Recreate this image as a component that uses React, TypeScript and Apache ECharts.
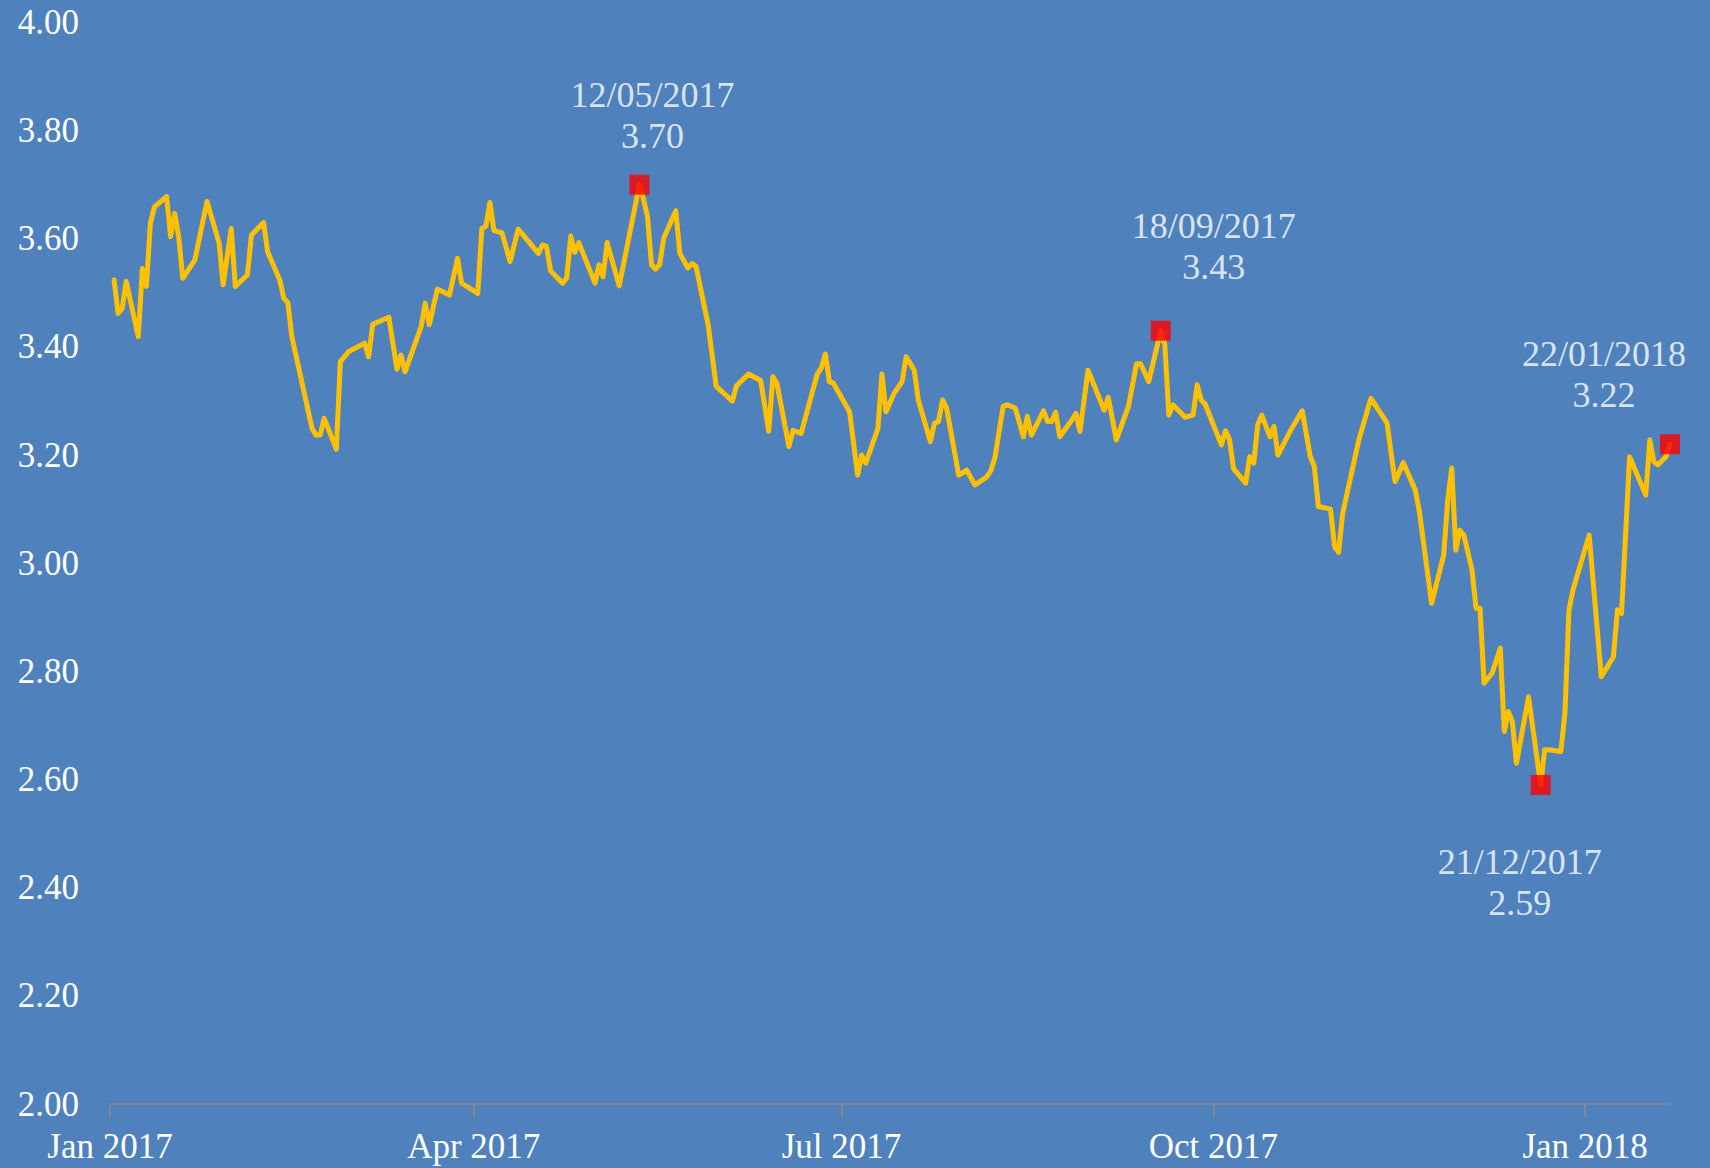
import React, { useEffect, useRef } from "react";
import * as echarts from "echarts";

// ---- Data ----
const dates = [
  "2017-01-02", "2017-01-03", "2017-01-04", "2017-01-05", "2017-01-08", "2017-01-09", "2017-01-10", "2017-01-11", "2017-01-12", "2017-01-15",
  "2017-01-16", "2017-01-17", "2017-01-18", "2017-01-19", "2017-01-22", "2017-01-25", "2017-01-28", "2017-01-29", "2017-01-31",
  "2017-02-01", "2017-02-04", "2017-02-05", "2017-02-08", "2017-02-09", "2017-02-12", "2017-02-13", "2017-02-14", "2017-02-15", "2017-02-20",
  "2017-02-21", "2017-02-22", "2017-02-23", "2017-02-26", "2017-02-27",
  "2017-03-01", "2017-03-05", "2017-03-06", "2017-03-07", "2017-03-11", "2017-03-13", "2017-03-14", "2017-03-15", "2017-03-19", "2017-03-20",
  "2017-03-21", "2017-03-23", "2017-03-26", "2017-03-28", "2017-03-29",
  "2017-04-02", "2017-04-03", "2017-04-04", "2017-04-05", "2017-04-06", "2017-04-08", "2017-04-10", "2017-04-12", "2017-04-17", "2017-04-18",
  "2017-04-19", "2017-04-20", "2017-04-23", "2017-04-24", "2017-04-25", "2017-04-26", "2017-04-27",
  "2017-05-01", "2017-05-02", "2017-05-03", "2017-05-04", "2017-05-07", "2017-05-12", "2017-05-13", "2017-05-14", "2017-05-15", "2017-05-16",
  "2017-05-17", "2017-05-18", "2017-05-21", "2017-05-22", "2017-05-24", "2017-05-25", "2017-05-26", "2017-05-29", "2017-05-31",
  "2017-06-04", "2017-06-05", "2017-06-08", "2017-06-11", "2017-06-13", "2017-06-14", "2017-06-15", "2017-06-18", "2017-06-19", "2017-06-21",
  "2017-06-25", "2017-06-26", "2017-06-27", "2017-06-28", "2017-06-29",
  "2017-07-03", "2017-07-05", "2017-07-06", "2017-07-07", "2017-07-10", "2017-07-11", "2017-07-12", "2017-07-14", "2017-07-16", "2017-07-17",
  "2017-07-19", "2017-07-20", "2017-07-23", "2017-07-24", "2017-07-25", "2017-07-26", "2017-07-27", "2017-07-30",
  "2017-08-01", "2017-08-03", "2017-08-06", "2017-08-07", "2017-08-08", "2017-08-10", "2017-08-11", "2017-08-13", "2017-08-15", "2017-08-16",
  "2017-08-17", "2017-08-20", "2017-08-21", "2017-08-22", "2017-08-23", "2017-08-24", "2017-08-27", "2017-08-28", "2017-08-29", "2017-08-31",
  "2017-09-04", "2017-09-05", "2017-09-07", "2017-09-10", "2017-09-12", "2017-09-13", "2017-09-15", "2017-09-18", "2017-09-19", "2017-09-20",
  "2017-09-21", "2017-09-24", "2017-09-26", "2017-09-27", "2017-09-28", "2017-09-29",
  "2017-10-03", "2017-10-04", "2017-10-05", "2017-10-06", "2017-10-09", "2017-10-10", "2017-10-11", "2017-10-12", "2017-10-13", "2017-10-15",
  "2017-10-16", "2017-10-17", "2017-10-20", "2017-10-23", "2017-10-25", "2017-10-26", "2017-10-27", "2017-10-30", "2017-10-31",
  "2017-11-01", "2017-11-02", "2017-11-06", "2017-11-09", "2017-11-13", "2017-11-14", "2017-11-15", "2017-11-17", "2017-11-20", "2017-11-21",
  "2017-11-24", "2017-11-27", "2017-11-28", "2017-11-29", "2017-11-30",
  "2017-12-01", "2017-12-02", "2017-12-04", "2017-12-05", "2017-12-06", "2017-12-07", "2017-12-09", "2017-12-11", "2017-12-12", "2017-12-13",
  "2017-12-14", "2017-12-15", "2017-12-18", "2017-12-21", "2017-12-22", "2017-12-23", "2017-12-26", "2017-12-27", "2017-12-28", "2017-12-29",
  "2018-01-02", "2018-01-05", "2018-01-08", "2018-01-09", "2018-01-10", "2018-01-12", "2018-01-16", "2018-01-17", "2018-01-18", "2018-01-19",
  "2018-01-21", "2018-01-22",
];

const values = [
  3.524, 3.462, 3.471, 3.521, 3.419, 3.545, 3.512, 3.629, 3.659, 3.678,
  3.604, 3.647, 3.604, 3.527, 3.561, 3.669, 3.592, 3.515, 3.619,
  3.512, 3.533, 3.607, 3.63, 3.576, 3.524, 3.49, 3.482, 3.419, 3.249,
  3.237, 3.237, 3.268, 3.211, 3.373,
  3.391, 3.407, 3.382, 3.442, 3.455, 3.359, 3.385, 3.354, 3.438, 3.481,
  3.441, 3.507, 3.496, 3.564, 3.518,
  3.499, 3.619, 3.623, 3.667, 3.615, 3.611, 3.558, 3.618, 3.573, 3.589,
  3.586, 3.541, 3.518, 3.527, 3.605, 3.575, 3.593,
  3.518, 3.552, 3.53, 3.593, 3.513, 3.7, 3.673, 3.641, 3.552, 3.544,
  3.552, 3.601, 3.652, 3.573, 3.546, 3.554, 3.549, 3.441, 3.327,
  3.3, 3.328, 3.35, 3.338, 3.244, 3.345, 3.333, 3.216, 3.246, 3.24,
  3.35, 3.361, 3.387, 3.336, 3.333,
  3.28, 3.163, 3.2, 3.185, 3.249, 3.35, 3.28, 3.314, 3.336, 3.382,
  3.357, 3.302, 3.225, 3.259, 3.262, 3.302, 3.287, 3.163,
  3.172, 3.145, 3.16, 3.172, 3.197, 3.29, 3.293, 3.287, 3.234, 3.272,
  3.237, 3.282, 3.262, 3.262, 3.279, 3.234, 3.265, 3.277, 3.244, 3.357,
  3.283, 3.307, 3.228, 3.29, 3.369, 3.369, 3.336, 3.43, 3.404, 3.274,
  3.293, 3.27, 3.274, 3.33, 3.302, 3.294,
  3.219, 3.245, 3.229, 3.175, 3.148, 3.197, 3.185, 3.256, 3.274, 3.234,
  3.253, 3.2, 3.244, 3.282, 3.197, 3.179, 3.105, 3.1, 3.031,
  3.02, 3.092, 3.228, 3.305, 3.259, 3.203, 3.151, 3.186, 3.135, 3.095,
  2.926, 3.015, 3.117, 3.176, 3.024,
  3.061, 3.052, 2.988, 2.917, 2.917, 2.778, 2.797, 2.843, 2.689, 2.726,
  2.707, 2.63, 2.753, 2.59, 2.655, 2.655, 2.652, 2.723, 2.914, 2.951,
  3.052, 2.79, 2.827, 2.914, 2.907, 3.197, 3.126, 3.228, 3.188, 3.182,
  3.197, 3.22,
];

const highlightDates = ["2017-05-12", "2017-09-18", "2017-12-21", "2018-01-22"];
const highlightValues = [3.7, 3.43, 2.59, 3.22];

const xTickDates = ["2017-01-01", "2017-04-01", "2017-07-01", "2017-10-01", "2018-01-01"];
const xTickLabels = ["Jan 2017", "Apr 2017", "Jul 2017", "Oct 2017", "Jan 2018"];
const xStart = "2017-01-01";
const xEnd = "2018-01-22";
const yMin = 2;
const yMax = 4;
const yStep = 0.2;

// ---- Styling ----
const FONT = "'Liberation Serif', 'Times New Roman', serif";
const BG = "#4F81BD";
const LINE = "#FFC000";
const MARK = "#FF0000";
const AXIS = "#8C8C8C";
const labelOffsets = [
  [13, -69],
  [53, -84],
  [-21, 98],
  [-66, -70],
];

function ts(s: string): number {
  const [y, m, d] = s.split("-").map(Number);
  return new Date(y, m - 1, d).getTime();
}

function fmtDate(s: string): string {
  const [y, m, d] = s.split("-");
  return `${d}/${m}/${y}`;
}

export default function App() {
  const ref = useRef<HTMLDivElement>(null);

  useEffect(() => {
    if (!ref.current) return;
    const chart = echarts.init(ref.current, undefined, { renderer: "svg" });
    const tickTs = xTickDates.map(ts);

    const lineData = dates.map((d, i) => [ts(d), values[i]]);
    const markData = highlightDates.map((d, i) => ({
      value: [ts(d), highlightValues[i]],
      label: {
        offset: labelOffsets[i],
        formatter: () => `${fmtDate(d)}\n${highlightValues[i].toFixed(2)}`,
      },
    }));

    chart.setOption({
      animation: false,
      backgroundColor: BG,
      grid: { left: 110, right: 40, top: 22.5, bottom: 64, containLabel: false },
      xAxis: {
        type: "value",
        min: ts(xStart),
        max: ts(xEnd),
        scale: true,
        axisLine: { show: true, lineStyle: { color: AXIS, width: 1.5 } },
        axisTick: {
          show: true,
          length: 13,
          customValues: tickTs,
          lineStyle: { color: AXIS, width: 1.5 },
        },
        axisLabel: {
          customValues: tickTs,
          showMinLabel: true,
          showMaxLabel: true,
          formatter: (v: number) => {
            let best = -1;
            let bd = Infinity;
            tickTs.forEach((t, i) => {
              const dd = Math.abs(t - v);
              if (dd < bd) {
                bd = dd;
                best = i;
              }
            });
            return best >= 0 && bd < 86400000 * 2 ? xTickLabels[best] : "";
          },
          color: "#FFFFFF",
          fontFamily: FONT,
          fontSize: 35,
          margin: 25,
        },
        splitLine: { show: false },
      },
      yAxis: {
        type: "value",
        min: yMin,
        max: yMax,
        interval: yStep,
        axisLine: { show: false },
        axisTick: { show: false },
        splitLine: { show: false },
        axisLabel: {
          formatter: (v: number) => v.toFixed(2),
          color: "#FFFFFF",
          fontFamily: FONT,
          fontSize: 35,
          margin: 31,
        },
      },
      series: [
        {
          type: "line",
          data: lineData,
          showSymbol: false,
          symbol: "none",
          clip: false,
          lineStyle: { color: LINE, width: 5, join: "round", cap: "round" },
          z: 2,
        },
        {
          type: "scatter",
          data: markData,
          symbol: "rect",
          symbolSize: 20,
          clip: false,
          itemStyle: { color: MARK },
          z: 3,
          label: {
            show: true,
            position: "inside",
            align: "center",
            verticalAlign: "middle",
            color: "#FFFFFF",
            fontFamily: FONT,
            fontSize: 36,
            lineHeight: 41,
          },
        },
      ],
    });

    return () => chart.dispose();
  }, []);

  return (
    <div
      ref={ref}
      style={{ position: "absolute", left: 0, top: 0, width: 1710, height: 1168 }}
    />
  );
}
